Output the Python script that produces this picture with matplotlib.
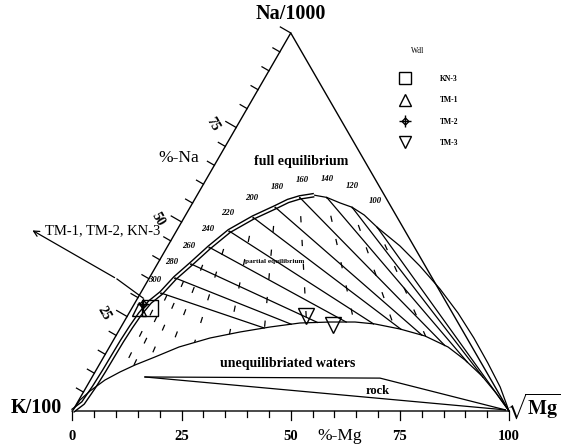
import numpy as np
import matplotlib
matplotlib.use("Agg")
import matplotlib.pyplot as plt
from matplotlib.lines import Line2D

plt.rcParams["font.family"] = ["Liberation Serif", "DejaVu Serif"]
plt.rcParams["mathtext.fontset"] = "stix"

# isotherm temperatures and their points on the full equilibrium curve (%Na, %Mg)
temps = [100, 120, 140, 160, 180, 200, 220, 240, 260, 280, 300]
iso_na = [48.6, 53.9, 56.5, 56.5, 53.9, 51.2, 47.6, 43.3, 38.9, 35.2, 31.2]
iso_mg = [45.5, 37.1, 30.0, 23.8, 19.5, 15.8, 12.1, 9.7, 7.7, 5.9, 4.7]

# full equilibrium curve, Mg corner -> K corner
full_na = [0, 6.35, 12.7, 19.31, 25.93, 32.28, 38.36, 43.65, 48.6, 51.85, 53.9, 55.03,
           56.5, 57.1, 56.5, 55.56, 53.9, 51.2, 47.6, 43.3, 38.9, 35.2, 31.2,
           28.84, 25.66, 22.22, 18.52, 14.55, 10.58, 6.35, 2.12, 0]
full_mg = [100, 94.8, 88.8, 82.3, 75.35, 68.05, 60.4, 53.2, 45.5, 40.9, 37.1, 33.8,
           30.0, 26.8, 23.8, 21.6, 19.5, 15.8, 12.1, 9.7, 7.7, 5.9, 4.7,
           3.33, 2.63, 2.29, 2.08, 2.0, 1.93, 1.75, 1.35, 0]

# immature waters boundary (partial equilibrium), K corner -> Mg corner
low_na = [0, 2.91, 5.29, 8.2, 10.32, 12.17, 14.29, 16.93, 19.31, 20.9, 22.22, 23.28,
          23.54, 23.54, 23.02, 21.69, 19.84, 16.93, 13.49, 9.26, 4.76, 0]
low_mg = [0, 0.26, 1.37, 3.35, 5.72, 8.23, 11.75, 15.93, 21.85, 27.92, 34.14, 40.48,
          47.22, 52.95, 57.79, 64.19, 70.84, 77.57, 83.18, 89.18, 94.64, 100]

# rock dissolution field
rock_top_na = [9.0, 8.7, 0.3]
rock_top_mg = [12.1, 66.1, 99.0]
rock_bot_na = [9.0, 0.3]
rock_bot_mg = [12.1, 99.0]

# samples
samples = {
    "KN-3": ([27.2], [4.2]),
    "TM-1": ([27.0], [1.7]),
    "TM-2": ([28.3], [2.0]),
    "TM-3": ([25.1, 22.8], [40.9, 48.3]),
}

H = np.sqrt(3) / 2
S = 436.5  # pixels per unit side


def tern(na, mg):
    na = np.asarray(na, float) / 100
    mg = np.asarray(mg, float) / 100
    return mg + na / 2, na * H


def px(x, y):
    return (x - 72.5) / S, (411 - y) / S


fig = plt.figure(figsize=(5.61, 4.46), dpi=100)
ax = fig.add_axes([0, 0, 1, 1])
ax.set_xlim(-72.5 / S, (561 - 72.5) / S)
ax.set_ylim(-(446 - 411) / S, 411 / S)
ax.axis("off")

lw = 0.9
# triangle
ax.plot([0, 1, 0.5, 0], [0, 0, H, 0], color="black", lw=1.0)

# bottom ticks
for v in range(0, 101, 5):
    L = 9 if v % 25 == 0 else 6
    ax.plot([v / 100, v / 100], [0, -L / S], color="black", lw=lw)
for v in [0, 25, 50, 75, 100]:
    ax.text(v / 100, px(0, 437)[1], str(v), ha="center", va="center",
            fontsize=10.5, fontweight="bold")
ax.text(*px(340, 436), "%-Mg", ha="center", va="center", fontsize=12.5)

# left ticks
n = np.array([-H, 0.5])
e = np.array([0.5, H])
for v in range(5, 101, 5):
    x0, y0 = tern(v, 0)
    L = 12 if v % 25 == 0 else 8
    ax.plot([x0, x0 + n[0] * L / S], [y0, y0 + n[1] * L / S], color="black", lw=lw)
for v in [25, 50, 75]:
    x0, y0 = tern(v, 0)
    p = np.array([x0, y0]) + n * 22 / S - e * 9 / S
    ax.text(p[0], p[1], str(v), ha="center", va="center",
            rotation=-60, fontsize=10, fontweight="bold")
ax.text(*px(179, 158), "%-Na", ha="center", va="center", fontsize=12.5)

# corner labels
ax.text(*px(291, 14), "Na/1000", ha="center", va="center", fontsize=14.5, fontweight="bold")
ax.text(*px(36, 408), "K/100", ha="center", va="center", fontsize=14.5, fontweight="bold")
ax.text(*px(561, 406), r"$\mathbf{\sqrt{Mg}}$", ha="right", va="center", fontsize=14.5)

# curves
fx, fy = tern(full_na, full_mg)
ax.plot(fx, fy, color="black", lw=lw, solid_joinstyle="round")
peak = 13
ax.plot(fx[peak:], fy[peak:], color="black", lw=3.4, solid_capstyle="butt", solid_joinstyle="round")
ax.plot(fx[peak:], fy[peak:], color="white", lw=1.4, solid_capstyle="butt", solid_joinstyle="round")

lx, ly = tern(low_na, low_mg)
ax.plot(lx, ly, color="black", lw=lw, solid_joinstyle="round")


def low_at(x):
    return np.interp(x, lx, ly)


s = np.linspace(0, 1, 2000)
ix, iy = tern(iso_na, iso_mg)
for t, x0, y0 in zip(temps, ix, iy):
    # Na/K isotherm towards the Mg corner
    xs = x0 + s * (1 - x0)
    ys = y0 + s * (0 - y0)
    below = np.nonzero(ys <= low_at(xs) + 1e-9)[0]
    k = below[0] if len(below) else len(s) - 1
    ax.plot(xs[:k + 1], ys[:k + 1], color="black", lw=lw)
    # K/Mg isotherm from the Na corner, dashed
    dx, dy = x0 - 0.5, y0 - H
    xs = x0 + s * dx * 2
    ys = y0 + s * dy * 2
    below = np.nonzero(ys <= low_at(xs))[0]
    k = below[0] if len(below) else len(s) - 1
    ax.plot(xs[:k + 1], ys[:k + 1], color="black", lw=lw, linestyle=(4, (5, 14)))

temp_lab = [(375, 201), (352, 186), (327, 179), (302, 180), (277, 187), (252, 198),
            (228, 213), (208, 229), (189, 246), (172, 262), (155, 280)]
for t, (a, b) in zip(temps, temp_lab):
    ax.text(*px(a, b), str(t), ha="center", va="center", fontsize=6.2,
            fontweight="bold", style="italic")

# rock field
rx, ry = tern(rock_top_na, rock_top_mg)
ax.plot(rx, ry, color="black", lw=lw)
rx, ry = tern(rock_bot_na, rock_bot_mg)
ax.plot(rx, ry, color="black", lw=lw)

# region labels
ax.text(*px(301, 162), "full equilibrium", ha="center", va="center", fontsize=10, fontweight="bold")
ax.text(*px(288, 363), "unequilibriated waters", ha="center", va="center", fontsize=10, fontweight="bold")
ax.text(*px(378, 391), "rock", ha="center", va="center", fontsize=9, fontweight="bold")
ax.text(*px(275, 261), "partial equilibrium", ha="center", va="center", fontsize=5.2, fontweight="bold")

# samples
mk = dict(mfc="none", mec="black", ls="none", mew=1.0)
x, y = tern(*samples["KN-3"])
ax.plot(x, y, marker="s", ms=11, **mk)
x, y = tern(*samples["TM-1"])
ax.plot(x, y, marker="^", ms=10, **mk)
x, y = tern(*samples["TM-2"])
ax.plot(x, y, marker="D", ms=4, **mk)
ax.plot(x, y, marker="+", ms=9, **mk)
x, y = tern(*samples["TM-3"])
ax.plot(x, y, marker="v", ms=11, **mk)

# annotation arrow
ax.annotate("", xy=px(30, 229), xytext=px(117, 279),
            arrowprops=dict(arrowstyle="->", color="black", lw=0.9))
ax.plot(*zip(px(117, 279), px(143, 298)), color="black", lw=0.9)
ax.text(*px(45, 231), "TM-1, TM-2, KN-3", ha="left", va="center", fontsize=10.5)

# legend
h = [Line2D([], [], marker="s", ms=9, **mk),
     Line2D([], [], marker="^", ms=9, **mk),
     (Line2D([], [], marker="D", ms=3.5, **mk), Line2D([], [], marker="+", ms=8, **mk)),
     Line2D([], [], marker="v", ms=9, **mk)]
leg = ax.legend(h, ["KN-3", "TM-1", "TM-2", "TM-3"], frameon=False,
                loc="upper left", bbox_to_anchor=(392 / 561, 1 - 68 / 446),
                fontsize=5.5, handletextpad=3.9, labelspacing=1.75,
                handlelength=1.5)
for tx in leg.get_texts():
    tx.set_fontweight("bold")
ax.text(*px(418, 51), "Wdl", ha="center", va="center", fontsize=5.5)

fig.savefig("out.png", dpi=100)
